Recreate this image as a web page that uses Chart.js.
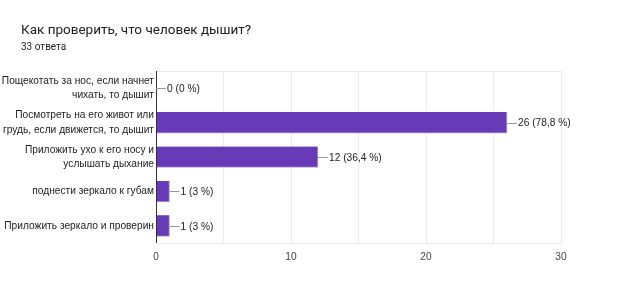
<!DOCTYPE html>
<html lang="ru">
<head>
  <meta charset="UTF-8">
  <title>Как проверить, что человек дышит?</title>
  <script src="https://cdn.jsdelivr.net/npm/chart.js"></script>
  <style>
    body { margin: 0; background: #fff; font-family: Roboto, Arial, sans-serif; }
    #wrap { position: relative; width: 624px; height: 297px; }
    #title { position: absolute; left: 21px; top: 21px; font-size: 13.5px; color: #212121; }
    #sub { position: absolute; left: 21px; top: 41px; font-size: 10px; color: #212121; }
    canvas { position: absolute; left: 0; top: 0; }
  </style>
</head>
<body>
  <div id="wrap">
    <canvas id="chart" width="624" height="297"></canvas>
    <div id="title">Как проверить, что человек дышит?</div>
    <div id="sub">33 ответа</div>
  </div>

  <script>
    // данные
    const categories = [
      ['Пощекотать за нос, если начнет', 'чихать, то дышит'],
      ['Посмотреть на его живот или', 'грудь, если движется, то дышит'],
      ['Приложить ухо к его носу и', 'услышать дыхание'],
      'поднести зеркало к губам',
      'Приложить зеркало и проверин'
    ];
    const counts = [0, 26, 12, 1, 1];
    const percentLabels = ['0 %', '78,8 %', '36,4 %', '3 %', '3 %'];
    const xTickLabels = ['0', '10', '20', '30'];

    const chartFont = '"Liberation Sans", Arial, sans-serif';
    const fontSize = 10.2;

    // подписи значений справа от столбцов
    const valueLabels = {
      id: 'valueLabels',
      afterDatasetsDraw(chart) {
        const ctx = chart.ctx;
        const meta = chart.getDatasetMeta(0);
        ctx.save();
        ctx.font = fontSize + 'px ' + chartFont;
        ctx.textBaseline = 'middle';
        meta.data.forEach((bar, i) => {
          const x = bar.x, y = bar.y;
          ctx.strokeStyle = '#999';
          ctx.lineWidth = 1;
          ctx.beginPath();
          ctx.moveTo(x, Math.round(y) + 0.5);
          ctx.lineTo(x + 10, Math.round(y) + 0.5);
          ctx.stroke();
          ctx.fillStyle = '#222';
          ctx.fillText(counts[i] + ' (' + percentLabels[i] + ')', x + 11, y + 1);
        });
        ctx.restore();
      }
    };

    // рамка области графика
    const frame = {
      id: 'frame',
      beforeDatasetsDraw(chart) {
        const a = chart.chartArea, ctx = chart.ctx;
        ctx.save();
        ctx.strokeStyle = '#ebebeb';
        ctx.lineWidth = 1;
        ctx.strokeRect(Math.round(a.left) + 0.5, Math.round(a.top) + 0.5, a.right - a.left, a.bottom - a.top);
        ctx.restore();
      },
      afterDatasetsDraw(chart) {
        const a = chart.chartArea, ctx = chart.ctx;
        ctx.save();
        ctx.strokeStyle = '#333';
        ctx.lineWidth = 1;
        ctx.beginPath();
        ctx.moveTo(Math.round(a.left) + 0.5, a.top);
        ctx.lineTo(Math.round(a.left) + 0.5, a.bottom);
        ctx.stroke();
        ctx.restore();
      }
    };

    new Chart(document.getElementById('chart'), {
      type: 'bar',
      data: {
        labels: categories,
        datasets: [{
          data: counts,
          backgroundColor: '#673ab7',
          borderColor: '#b39ddb',
          borderWidth: { top: 0, left: 0, right: 1, bottom: 1 },
          borderSkipped: false,
          barThickness: 21
        }]
      },
      options: {
        indexAxis: 'y',
        responsive: false,
        animation: false,
        layout: { padding: { top: 71, right: 63, left: 0, bottom: 0 } },
        plugins: { legend: { display: false }, tooltip: { enabled: false } },
        scales: {
          x: {
            min: 0, max: 30,
            ticks: {
              stepSize: 5,
              color: '#444',
              font: { family: chartFont, size: fontSize },
              padding: 8,
              callback: v => xTickLabels.includes(String(v)) ? String(v) : ''
            },
            grid: { color: '#ebebeb', drawTicks: false },
            border: { display: false },
            afterFit: s => { s.height = 54; }
          },
          y: {
            ticks: {
              color: '#222',
              font: { family: chartFont, size: fontSize, lineHeight: 1.42 },
              padding: 2
            },
            grid: { display: false, drawTicks: false },
            border: { display: false },
            afterFit: s => { s.width = 156; }
          }
        }
      },
      plugins: [frame, valueLabels]
    });
  </script>
</body>
</html>
